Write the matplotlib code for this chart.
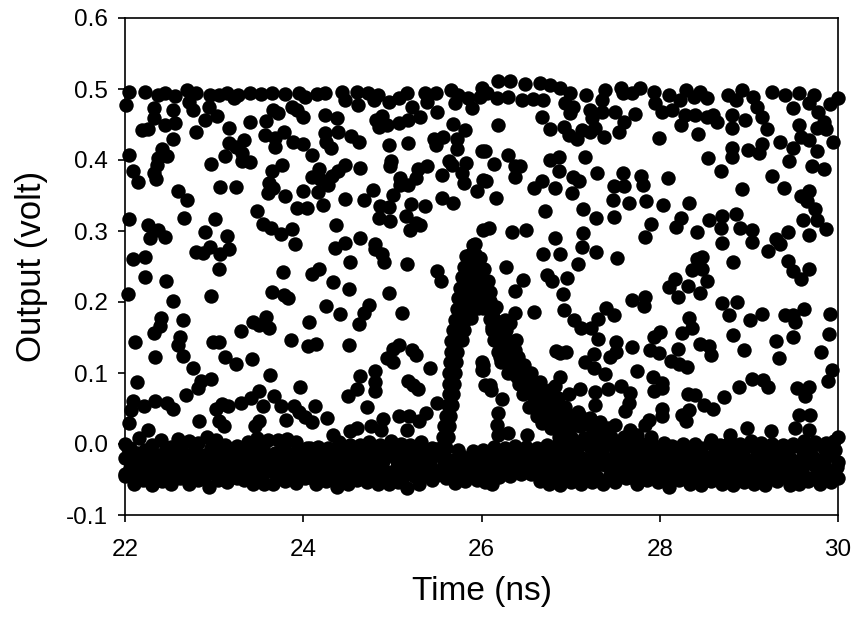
import matplotlib
matplotlib.use("Agg")
import matplotlib.pyplot as plt
import numpy as np

plt.rcParams['font.family'] = ['Liberation Sans', 'DejaVu Sans']
plt.rcParams['axes.unicode_minus'] = False

# values, (time ns, output volt)
top_row = [(22.05,.496),(22.23,.496),(22.37,.492),(22.45,.494),(22.56,.490),(22.70,.499),(22.80,.495),(22.72,.482),(22.76,.470),(22.01,.478),
(22.95,.492),(23.05,.492),(23.14,.494),(23.22,.487),(23.27,.492),(23.40,.494),(23.53,.493),(23.65,.494),(23.80,.493),(23.95,.494),(24.02,.489),(24.15,.493),(24.24,.494),(24.43,.496),(24.47,.485),(24.60,.496),(24.73,.494),(24.79,.485),(24.84,.492),(24.96,.482),(25.07,.487),(25.16,.494),(25.37,.494),(25.39,.482),(25.49,.494),(25.66,.499),(25.74,.492),(25.70,.480),(25.85,.487),(25.89,.473),(26.00,.501),
(26.19,.511),(26.32,.511),(26.49,.507),(26.66,.509),(26.77,.506),(26.88,.501),(26.99,.494),(26.06,.494),(26.17,.487),(26.30,.489),(26.45,.485),(26.58,.486),(26.69,.484),(25.98,.489),(26.94,.480),(27.03,.475),(26.99,.466),(27.17,.492),(27.39,.499),(27.35,.485),(27.56,.501),(27.59,.494),(27.69,.494),(27.78,.501),(27.93,.496),(27.95,.480),(28.10,.492),(28.30,.499),(28.45,.496),(28.53,.487),(28.38,.489),(28.23,.485),(28.77,.492),(28.92,.499),(28.86,.485),(29.05,.489),(29.26,.496),(29.41,.492),(29.56,.494),(29.73,.492),(29.91,.479),(30.00,.487),(29.67,.480),(29.09,.475),(29.50,.473)]

upper_left = [(22.33,.473),(22.32,.459),(22.54,.471),(22.56,.452),(22.45,.450),(22.26,.443),(22.19,.442),(22.54,.430),(22.80,.439),(22.90,.457),(22.94,.475),(23.03,.462),(23.17,.445),(23.40,.453),(23.58,.455),(23.66,.470),(23.72,.466),(23.87,.475),(23.93,.471),(24.00,.461),(24.24,.463),(24.38,.459),(24.61,.477),(25.22,.475),(25.31,.461),(25.18,.457),(25.07,.452),(24.94,.450),(24.85,.446),(24.82,.457),(24.88,.462),(25.50,.467),(25.68,.451),(25.82,.442),
(23.57,.435),(23.68,.431),(23.78,.440),(23.68,.419),(23.89,.426),(24.00,.422),(24.10,.407),(24.24,.438),(24.25,.426),(24.31,.417),(24.39,.439),(24.54,.434),(24.62,.426),(24.96,.421),(25.17,.424),(25.47,.430),(25.57,.432),(25.49,.421),(25.72,.429),(25.72,.415),(26.00,.413),
(23.17,.424),(23.33,.428),(23.25,.419),(23.31,.410),(23.12,.405),(23.31,.398),(23.40,.397),(22.97,.395),(22.41,.415),(22.37,.403),(22.47,.405),(22.36,.393),(22.04,.407),(22.09,.384),(22.15,.369),(22.32,.382),(22.35,.373),
(23.76,.393),(23.65,.385),(23.62,.367),(23.66,.360),(23.61,.353),(23.80,.350),(24.00,.357),(24.16,.355),(24.18,.387),(24.10,.376),(24.19,.373),(24.28,.365),(24.32,.377),(24.39,.384),(24.47,.393),(24.64,.389),(24.99,.398),(24.97,.391),(25.08,.374),(25.09,.365),(25.17,.365),(25.27,.374),(25.29,.387),(25.39,.392),(25.56,.379),(25.63,.398),(25.67,.393),(25.83,.396),(25.78,.382),(25.80,.368),(25.95,.357),(26.02,.372)]

mid_left = [(23.07,.362),(23.24,.362),(22.60,.357),(22.70,.344),(22.05,.317),(22.66,.319),(23.01,.317),(23.48,.328),(23.93,.332),(24.04,.332),(24.22,.337),(24.47,.345),(24.68,.344),(24.78,.358),(25.01,.351),(24.86,.335),(24.96,.334),(24.85,.319),(24.97,.314),(25.21,.338),(25.37,.335),(25.15,.321),(25.56,.347),(25.68,.339),(25.27,.311),(25.31,.308),(25.20,.301),(26.02,.302),
(22.26,.308),(22.28,.290),(22.37,.302),(22.45,.291),(22.90,.299),(23.15,.293),(23.55,.310),(23.64,.304),(23.75,.296),(23.87,.303),(23.91,.282),(24.37,.309),(24.47,.283),(24.36,.276),(24.64,.290),(24.81,.282),(24.80,.275),(24.88,.267),(24.91,.257),(25.16,.254),(24.53,.256),
(22.80,.271),(22.88,.269),(22.95,.278),(23.07,.267),(23.17,.274),(23.05,.246),(22.09,.261),(22.23,.264),(22.23,.235),(22.46,.229),(23.77,.242),(24.10,.240),(24.18,.246),(24.33,.228),(24.51,.218),(24.96,.213),(25.50,.243),(25.54,.229),(22.03,.211),(22.97,.208),(23.65,.214),(23.78,.210),(23.83,.206),(22.54,.201)]

low_left = [(24.25,.194),(24.41,.183),(24.74,.196),(24.68,.184),(24.62,.169),(25.11,.185),(24.06,.172),(22.40,.177),(22.39,.166),(22.33,.156),(22.65,.175),(22.11,.144),(22.62,.151),(22.60,.140),(22.65,.124),(22.34,.123),(22.76,.107),(22.13,.088),(22.97,.092),(22.85,.089),(22.82,.079),(22.69,.069),(23.30,.159),(23.44,.172),(23.50,.168),(23.58,.179),(23.62,.164),(22.99,.143),(23.06,.143),(23.12,.122),(23.24,.112),(23.42,.120),(23.86,.147),(24.05,.138),(24.14,.141),(24.51,.139),(25.07,.140),(25.01,.134),(24.94,.121),(25.01,.115),(25.22,.132),(25.27,.125),(23.63,.097),(23.96,.080),(24.64,.096),(24.81,.103),(24.80,.088),(24.81,.075),(24.60,.078),(24.50,.067),(25.17,.089),(25.23,.083),(25.29,.078),(25.42,.107),
(23.50,.074),(23.41,.065),(23.30,.058),(23.16,.053),(23.09,.057),(23.02,.049),(23.55,.054),(23.67,.068),(23.75,.054),(23.90,.053),(23.95,.045),(24.02,.038),(24.10,.031),(24.13,.054),(24.27,.036),(23.81,.034),(23.50,.032),(23.46,.025),(23.05,.032),(23.11,.025),(22.83,.033),(22.26,.020),(22.05,.030),(22.09,.060),(22.07,.048),(22.21,.053),(22.34,.060),(22.47,.058),(22.54,.050),(24.72,.052),(24.89,.035),(24.76,.026),(24.87,.020),(24.60,.023),(24.53,.018),(25.07,.039),(25.19,.039),(25.30,.032),(25.38,.043),(25.16,.020),(24.33,.012),(25.50,.058),(26.00,.116),(26.00,.104),(26.04,.083)]

upper_right = [(28.14,.471),(28.02,.468),(27.50,.468),(27.22,.470),(27.24,.459),(27.35,.468),(27.72,.465),(26.68,.461),(26.19,.450),(26.77,.444),(26.93,.447),(26.98,.435),(27.07,.430),(27.13,.442),(27.22,.440),(27.27,.445),(27.38,.432),(27.54,.440),(27.60,.454),(27.99,.431),(28.24,.450),(28.28,.464),(28.40,.464),(28.43,.437),(28.53,.461),(28.60,.464),(28.64,.454),(28.81,.445),(28.81,.464),(29.15,.461),(28.96,.457),(29.20,.443),(29.78,.468),(29.84,.454),(29.56,.450),(29.76,.445),(29.86,.443),(29.59,.432),(29.67,.428),(29.35,.425),(29.49,.417),(29.76,.412),(29.94,.426),
(26.04,.413),(26.30,.407),(26.14,.395),(26.38,.392),(26.43,.391),(26.38,.376),(26.05,.371),(26.16,.346),(26.59,.361),(26.68,.371),(26.77,.400),(26.87,.404),(26.87,.385),(26.83,.361),(27.02,.354),(27.03,.376),(27.09,.370),(27.16,.404),(27.30,.382),(27.59,.382),(27.49,.363),(27.60,.364),(27.79,.378),(27.81,.365),(28.09,.374),(27.47,.343),(27.65,.339),(27.85,.342),(28.04,.336),(28.33,.339),(27.14,.331),(26.71,.328),(27.28,.319),(27.49,.320),(28.24,.319),(27.90,.310),(28.18,.305),(28.42,.299),(28.55,.315),(28.70,.321),(28.69,.304),(28.86,.324),(28.90,.304),(29.04,.302),(29.03,.284),(28.70,.283),(27.83,.291),(29.30,.289),(29.35,.282),(29.21,.272),(29.44,.299),(29.61,.316),(29.76,.316),(29.86,.303),(29.67,.294),(28.54,.403),(28.81,.417),(28.81,.404),(28.99,.414),(29.11,.410),(29.15,.423),(29.45,.398),(29.71,.392),(29.84,.388),(28.69,.384),(29.26,.378),(29.39,.360),(28.92,.359),(29.67,.357),(29.58,.350),(29.65,.342),(29.74,.331)]

mid_right = [(26.08,.304),(26.34,.299),(26.50,.301),(26.83,.290),(27.14,.297),(27.13,.277),(27.29,.271),(27.52,.262),(26.69,.268),(26.88,.267),(27.08,.253),(26.28,.249),(28.82,.257),(28.47,.264),(28.42,.260),(28.47,.246),(28.36,.245),(29.44,.258),(29.50,.243),(29.68,.246),(29.59,.232),(26.73,.238),(26.79,.229),(26.96,.234),(26.47,.231),(26.38,.216),(26.91,.211),(28.17,.232),(28.10,.221),(28.32,.222),(28.53,.229),(28.45,.213),(28.20,.207)]

low_right = [(26.38,.184),(26.59,.186),(26.93,.189),(27.69,.203),(27.84,.207),(27.82,.194),(28.70,.198),(28.87,.200),(28.78,.182),(29.15,.183),(29.01,.174),(29.40,.182),(29.50,.182),(29.52,.172),(29.62,.190),(29.91,.183),(29.90,.155),(29.50,.151),(29.30,.145),(28.82,.154),(28.95,.132),(29.34,.121),(29.81,.130),(29.93,.104),(29.89,.089),
(27.04,.174),(27.12,.164),(27.23,.164),(27.31,.176),(27.40,.191),(27.49,.182),(28.33,.177),(28.36,.164),(28.25,.157),(27.31,.148),(27.51,.144),(27.51,.130),(27.44,.123),(27.69,.137),(27.26,.127),(27.16,.115),(27.26,.107),(27.39,.099),(26.84,.131),(26.88,.128),(26.95,.130),(27.89,.132),(27.99,.128),(28.20,.134),(27.93,.151),(28.00,.158),(28.45,.141),(28.55,.138),(28.57,.125),(28.13,.117),(28.22,.113),(28.31,.108),(27.74,.103),(27.92,.094),(28.02,.086),(27.93,.074),(28.02,.079),(26.88,.095),(26.83,.081),(26.98,.071),(27.10,.078),(27.27,.073),(27.27,.055),(27.42,.078),(27.57,.081),(27.67,.072),(27.65,.058),(27.61,.047),(28.32,.071),(28.40,.069),(28.50,.055),(28.60,.050),(28.72,.066),(28.89,.080),(29.03,.092),(29.16,.090),(29.22,.080),(29.54,.079),(29.67,.080),(29.63,.067),(28.03,.050),(28.03,.039),(28.25,.041),(28.33,.048),(28.30,.033),(27.88,.034),(27.84,.027),(29.56,.041),(29.69,.041),(29.52,.022),(29.67,.020),(28.98,.022),(29.25,.018),(28.79,.013),(26.02,.111),(26.02,.104),(26.09,.083),(26.11,.076),(26.23,.063),(26.18,.043),(26.17,.027),(26.19,.013),(26.30,.015),(26.51,.013),(28.57,.006)]

pulse_peak = [(25.90,.280),(25.93,.282),(25.83,.265),(25.88,.268),(25.93,.268),(25.98,.262),(25.80,.250),(25.86,.252),(25.92,.252),(25.98,.250),(26.03,.246),
(25.78,.235),(25.84,.236),(25.90,.235),(25.96,.235),(26.02,.233),(26.07,.230),(25.76,.220),(25.82,.220),(25.88,.220),(25.94,.220),(26.00,.220),(26.06,.218),(26.09,.214),
(25.74,.205),(25.80,.205),(25.86,.205),(25.92,.205),(25.98,.205),(26.04,.203),(26.10,.202),(25.72,.190),(25.78,.190),(25.84,.190),(25.90,.192),(25.96,.192),(26.02,.192),(26.08,.190),(26.13,.188),
(25.70,.175),(25.76,.175),(25.82,.175),(25.88,.178),(26.10,.176),(26.15,.174),(25.68,.160),(25.74,.160),(25.80,.160),(26.12,.160),(26.18,.160),(25.66,.145),(25.72,.145),(25.78,.146),(26.15,.146),(26.20,.145)]

pulse_rise = [(25.66,.130),(25.72,.130),(25.65,.115),(25.71,.115),(25.64,.100),(25.70,.100),(25.63,.085),(25.69,.085),(25.63,.070),(25.68,.070),(25.62,.055),(25.67,.055),(25.60,.040),(25.65,.040),(25.58,.025),(25.63,.025),(25.57,.010),(25.62,.010),(25.55,-.005),(25.60,-.005)]

pulse_fall = [(26.16,.193),(26.26,.175),(26.32,.170),(26.39,.146),(26.41,.122),(26.48,.111),(26.55,.100),(26.66,.087),(26.77,.076),(26.86,.065),(26.94,.052),(27.08,.045),(27.22,.037),(27.33,.031),(27.50,.027),(27.67,.020),
(26.14,.147),(26.21,.122),(26.34,.100),(26.49,.076),(26.53,.052),(26.68,.030),(26.87,.010),
(26.25,.140),(26.32,.125),(26.30,.112),(26.40,.095),(26.45,.085),(26.55,.080),(26.60,.065),(26.66,.060),(26.72,.050),(26.80,.045),(26.88,.035),(26.98,.030),(27.10,.025),(27.25,.018),(27.40,.015),(27.60,.010),(26.62,.040),(26.78,.022),(26.95,.012),(27.15,.008),
(26.12,.165),(26.20,.165),(26.28,.160),(26.22,.145),(26.30,.145),(26.38,.132),(26.18,.130),(26.26,.130),(26.22,.115),(26.30,.100),(26.38,.115),(26.44,.110),(26.42,.100),(26.50,.098),(26.42,.085),(26.50,.085),(26.58,.085),(26.65,.080),(26.47,.070),(26.55,.070),(26.63,.070),(26.72,.070),(26.80,.065),
(26.60,.055),(26.68,.050),(26.76,.055),(26.84,.055),(26.92,.050),(26.70,.040),(26.78,.040),(26.86,.040),(26.94,.040),(27.02,.040),(27.10,.040),(26.78,.025),(26.86,.025),(26.94,.025),(27.02,.025),(27.18,.028),(27.34,.025),(27.42,.022),(27.00,.010),(27.30,.010),(27.45,.010),(27.75,.012),(27.90,.010)]

band_upper = [(22.00,.000),(22.06,-.005),(22.16,.008),(22.30,-.002),(22.40,.006),(22.52,-.004),(22.60,.007),(22.72,.004),(22.82,.002),(22.92,.010),(23.02,.006),(23.12,-.002),(23.26,-.003),(23.38,.003),(23.48,.008),(23.60,.006),(23.72,.006),(23.82,.007),(23.92,.003),(24.04,-.006),(24.16,-.004),(24.28,-.006),(24.40,.003),(24.52,-.002),(24.64,-.001),(24.74,.003),(24.86,-.001),(24.98,.004),(25.10,.000),(25.20,-.002),(25.32,.003),(25.44,-.005),(25.54,-.006),(25.74,-.008),(25.90,-.010),(26.02,-.008),(26.14,-.004),(26.26,-.005),(26.38,-.003),(26.50,-.004),(26.62,-.005),(26.74,-.002),(26.86,.000),(27.00,.002),(27.14,.003),(27.28,.004),(27.42,.004),(27.56,.002),(27.68,.003),(27.80,.000),(27.90,.003),(28.05,.002),(28.14,-.003),(28.26,.000),(28.40,.000),(28.56,.002),(28.68,-.002),(28.78,.002),(28.90,.000),(29.02,.004),(29.14,.001),(29.26,.000),(29.38,-.002),(29.50,.000),(29.62,.004),(29.74,.003),(29.86,.002),(29.96,.004),(30.00,.010)]

band_mid = [(22.00,-.020),(22.13,-.012),(22.25,-.025),(22.38,-.015),(22.51,-.024),(22.64,-.010),(22.77,-.026),(22.90,-.016),(23.03,-.022),(23.16,-.011),(23.29,-.027),(23.42,-.014),(23.55,-.023),(23.68,-.012),(23.81,-.025),(23.94,-.017),(24.07,-.021),(24.20,-.013),(24.33,-.026),(24.46,-.015),(24.59,-.024),(24.72,-.011),(24.85,-.026),(24.98,-.016),(25.11,-.022),(25.24,-.012),(25.37,-.027),(25.50,-.014),(25.63,-.023),(25.76,-.016),(25.89,-.025),(26.02,-.013),(26.15,-.021),(26.28,-.012),(26.41,-.024),(26.54,-.015),(26.67,-.022),(26.80,-.013),(26.93,-.025),(27.06,-.012),(27.19,-.023),(27.32,-.014),(27.45,-.026),(27.58,-.011),(27.71,-.022),(27.84,-.016),(27.97,-.025),(28.10,-.013),(28.23,-.023),(28.36,-.012),(28.49,-.026),(28.62,-.014),(28.75,-.021),(28.88,-.011),(29.01,-.025),(29.14,-.015),(29.27,-.023),(29.40,-.013),(29.53,-.026),(29.66,-.012),(29.79,-.022),(29.92,-.015),(30.00,-.025),
(22.06,-.034),(22.19,-.030),(22.32,-.037),(22.45,-.032),(22.58,-.038),(22.71,-.031),(22.84,-.036),(22.97,-.033),(23.10,-.038),(23.23,-.032),(23.36,-.036),(23.49,-.030),(23.62,-.038),(23.75,-.033),(23.88,-.036),(24.01,-.032),(24.14,-.038),(24.27,-.031),(24.40,-.037),(24.53,-.033),(24.66,-.036),(24.79,-.030),(24.92,-.038),(25.05,-.032),(25.18,-.036),(25.31,-.031),(25.44,-.037),(25.57,-.033),(25.70,-.036),(25.83,-.032),(25.96,-.036),(26.09,-.030),(26.22,-.034),(26.35,-.031),(26.48,-.036),(26.61,-.032),(26.74,-.037),(26.87,-.031),(27.00,-.036),(27.13,-.033),(27.26,-.038),(27.39,-.030),(27.52,-.036),(27.65,-.032),(27.78,-.037),(27.91,-.033),(28.04,-.036),(28.17,-.031),(28.30,-.038),(28.43,-.032),(28.56,-.036),(28.69,-.030),(28.82,-.037),(28.95,-.033),(29.08,-.036),(29.21,-.031),(29.34,-.038),(29.47,-.032),(29.60,-.036),(29.73,-.030),(29.86,-.037),(29.99,-.032)]

band_fill = [(22.03,-.006),(22.10,-.022),(22.22,-.008),(22.31,-.020),(22.46,-.006),(22.44,-.020),(22.58,-.005),(22.57,-.018),(22.70,-.018),(22.78,-.007),(22.84,-.020),(22.97,-.006),(22.97,-.022),(23.09,-.016),(23.20,-.007),(23.22,-.021),(23.33,-.008),(23.35,-.019),(23.48,-.022),(23.55,-.006),(23.61,-.017),(23.75,-.018),(23.78,-.004),(23.87,-.014),(24.00,-.009),(24.01,-.022),(24.12,-.012),(24.22,-.024),(24.34,-.014),(24.40,-.020),(24.52,-.018),(24.60,-.008),(24.66,-.018),(24.78,-.021),(24.80,-.007),(24.92,-.018),(25.04,-.008),(25.05,-.024),(25.16,-.008),(25.18,-.019),(25.30,-.022),(25.38,-.010),(25.44,-.018),(25.57,-.020),(25.70,-.022),(25.82,-.020),(25.96,-.018),(26.08,-.020),(26.22,-.014),(26.34,-.020),(26.48,-.018),(26.60,-.020),(26.60,-.008),(26.74,-.018),(26.74,-.008),(26.87,-.018),(26.92,-.008),(27.00,-.018),(27.08,-.004),(27.13,-.020),(27.26,-.016),(27.22,-.004),(27.38,-.020),(27.36,-.005),(27.50,-.016),(27.50,-.004),(27.64,-.018),(27.62,-.005),(27.77,-.018),(27.76,-.006),(27.90,-.012),(28.00,-.008),(28.03,-.020),(28.16,-.020),(28.20,-.008),(28.30,-.018),(28.32,-.006),(28.42,-.020),(28.46,-.006),(28.55,-.018),(28.62,-.006),(28.68,-.020),(28.72,-.006),(28.82,-.017),(28.84,-.005),(28.96,-.006),(28.95,-.018),(29.08,-.018),(29.08,-.006),(29.20,-.006),(29.21,-.020),(29.32,-.008),(29.34,-.018),(29.46,-.020),(29.46,-.006),(29.60,-.020),(29.58,-.006),(29.72,-.018),(29.70,-.006),(29.84,-.006),(29.85,-.020),(29.97,-.008),
(22.00,-.042),(22.13,-.046),(22.26,-.044),(22.38,-.046),(22.50,-.044),(22.64,-.045),(22.77,-.046),(22.90,-.045),(23.02,-.044),(23.16,-.046),(23.30,-.044),(23.42,-.046),(23.54,-.045),(23.70,-.046),(23.86,-.045),(23.97,-.044),(24.08,-.046),(24.20,-.045),(24.32,-.046),(24.44,-.046),(24.56,-.045),(24.66,-.046),(24.78,-.045),(24.90,-.046),(25.02,-.045),(25.12,-.046),(25.24,-.045),(25.36,-.044),(25.50,-.044),(25.65,-.045),(25.76,-.046),(25.90,-.044),(26.00,-.044),(26.16,-.043),(26.70,-.044),(26.82,-.046),(26.94,-.045),(27.06,-.046),(27.18,-.045),(27.30,-.046),(27.44,-.044),(27.56,-.045),(27.68,-.046),(27.80,-.044),(27.92,-.045),(28.04,-.046),(28.16,-.044),(28.28,-.046),(28.40,-.045),(28.52,-.046),(28.64,-.045),(28.76,-.046),(28.88,-.044),(29.00,-.046),(29.12,-.045),(29.24,-.046),(29.38,-.045),(29.50,-.046),(29.62,-.045),(29.73,-.046),(29.86,-.045),(29.97,-.044)]

band_dense = [(22.07,-.027),(22.17,-.040),(22.22,-.022),(22.35,-.028),(22.44,-.041),(22.52,-.033),(22.60,-.028),(22.70,-.041),(22.76,-.017),(22.84,-.028),(22.95,-.040),(23.00,-.029),(23.10,-.026),(23.21,-.041),(23.26,-.018),(23.38,-.027),(23.48,-.040),(23.55,-.032),(23.68,-.026),(23.76,-.041),(23.84,-.031),(23.98,-.030),(24.04,-.040),(24.12,-.029),(24.26,-.022),(24.36,-.041),(24.48,-.026),(24.60,-.040),(24.68,-.029),(24.80,-.040),(24.90,-.024),(25.00,-.040),(25.08,-.030),(25.22,-.026),(25.32,-.041),(25.42,-.027),(25.54,-.042),(25.62,-.032),(25.74,-.028),(25.86,-.041),(25.94,-.030),(26.04,-.027),(26.14,-.039),(26.20,-.028),(26.30,-.026),(26.44,-.030),(26.56,-.029),(26.66,-.038),(26.72,-.027),(26.84,-.026),(26.96,-.040),(27.04,-.027),(27.14,-.041),(27.22,-.029),(27.34,-.026),(27.46,-.041),(27.54,-.029),(27.66,-.026),(27.76,-.041),(27.86,-.030),(27.98,-.040),(28.08,-.027),(28.22,-.040),(28.26,-.029),(28.38,-.027),(28.48,-.041),(28.58,-.028),(28.66,-.040),(28.76,-.028),(28.90,-.026),(29.02,-.040),(29.10,-.027),(29.22,-.041),(29.34,-.027),(29.44,-.041),(29.54,-.031),(29.66,-.025),(29.76,-.041),(29.84,-.029),(29.94,-.041),(23.06,-.010),(23.44,-.007),(23.94,-.006),(24.08,-.006),(24.24,-.009),(24.44,-.007),(24.92,-.008),(25.28,-.007),(25.48,-.007),(26.04,-.020),(26.46,-.008),(29.92,-.006)]

band_lower = [(22.00,-.045),(22.10,-.057),(22.20,-.050),(22.30,-.058),(22.42,-.052),(22.52,-.056),(22.62,-.048),(22.72,-.056),(22.82,-.051),(22.94,-.061),(23.04,-.050),(23.14,-.054),(23.26,-.048),(23.34,-.050),(23.44,-.056),(23.56,-.057),(23.66,-.056),(23.80,-.052),(23.92,-.055),(24.02,-.048),(24.14,-.057),(24.26,-.052),(24.38,-.060),(24.50,-.056),(24.60,-.050),(24.72,-.053),(24.84,-.056),(24.96,-.057),(25.06,-.054),(25.16,-.062),(25.30,-.056),(25.44,-.050),(25.60,-.048),(25.70,-.055),(25.82,-.052),(25.95,-.050),(26.04,-.054),(26.12,-.056),(26.20,-.047),(26.32,-.045),(26.44,-.042),(26.55,-.042),(26.66,-.052),(26.76,-.056),(26.88,-.058),(27.00,-.054),(27.12,-.056),(27.24,-.053),(27.36,-.056),(27.50,-.054),(27.62,-.048),(27.74,-.056),(27.86,-.050),(27.98,-.053),(28.10,-.060),(28.22,-.050),(28.34,-.056),(28.46,-.058),(28.58,-.052),(28.70,-.056),(28.82,-.058),(28.94,-.054),(29.06,-.056),(29.18,-.058),(29.32,-.052),(29.46,-.058),(29.56,-.056),(29.66,-.052),(29.80,-.056),(29.92,-.053),(30.00,-.048)]

groups = [top_row, upper_left, mid_left, low_left, upper_right, mid_right, low_right,
          pulse_peak, pulse_rise, pulse_fall, band_upper, band_mid, band_fill, band_dense, band_lower]

xticks = [22, 24, 26, 28, 30]
yticks = [-0.1, 0.0, 0.1, 0.2, 0.3, 0.4, 0.5, 0.6]
ylabels = ['-0.1', '0.0', '0.1', '0.2', '0.3', '0.4', '0.5', '0.6']

fig = plt.figure(figsize=(8.59, 6.22), dpi=100)
ax = fig.add_axes([125/859, 107/622, 713/859, 497/622])

pts = np.array([p for g in groups for p in g])
ax.scatter(pts[:, 0], pts[:, 1], s=108, color='black', linewidths=0, clip_on=False, zorder=3)

ax.set_xlim(22, 30)
ax.set_ylim(-0.1, 0.6)
ax.set_xticks(xticks)
ax.set_yticks(yticks)
ax.set_yticklabels(ylabels)
ax.tick_params(labelsize=17.5, length=5, width=1.2)
ax.tick_params(axis='x', pad=12)
ax.tick_params(axis='y', pad=7)
for s in ax.spines.values():
    s.set_linewidth(1.2)
ax.set_xlabel('Time (ns)', fontsize=24, labelpad=11)
ax.set_ylabel('Output (volt)', fontsize=25, labelpad=13)

fig.savefig('out.png', dpi=100)
